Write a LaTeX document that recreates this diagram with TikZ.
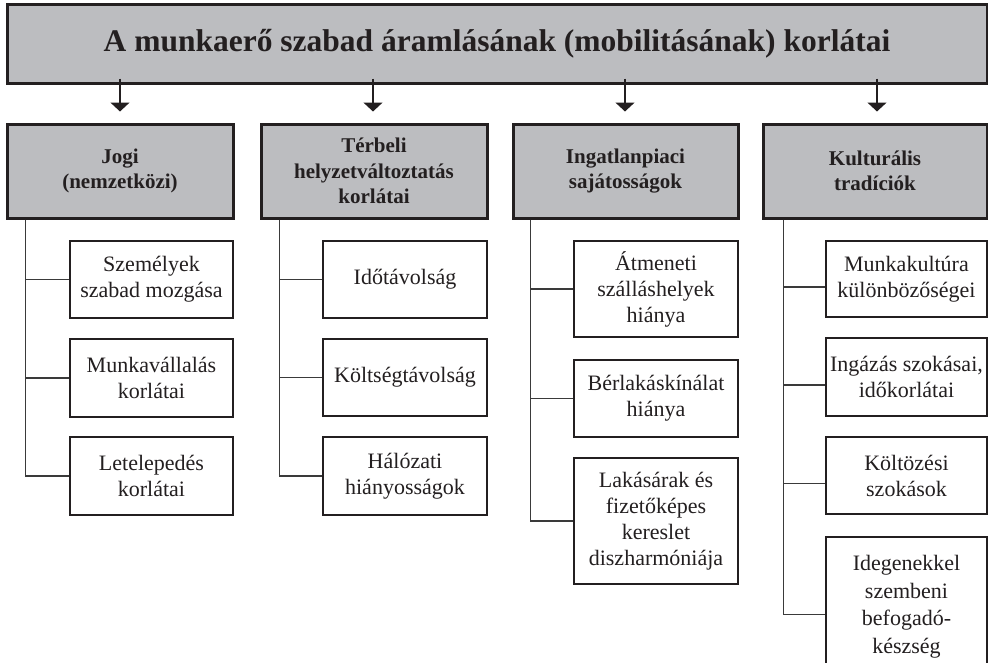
\documentclass[tikz,border=0pt]{standalone}
\usepackage{fontspec}
\setmainfont{Liberation Serif}
\usetikzlibrary{arrows.meta}
\definecolor{boxgray}{HTML}{BCBDC0}
\definecolor{ink}{HTML}{231F20}
\definecolor{treeline}{HTML}{3A3A3A}
\tikzset{
  titlebox/.style={draw=ink, fill=boxgray, line width=3pt, inner sep=0pt,
    font=\fontsize{31.5}{36}\selectfont\bfseries, text=ink},
  hdrbox/.style={draw=ink, fill=boxgray, line width=3pt, inner sep=0pt,
    minimum width=226pt, minimum height=94pt, align=center,
    font=\fontsize{21}{25.5}\selectfont\bfseries, text=ink},
  childbox/.style={draw=ink, fill=white, line width=1.5pt, inner sep=0pt,
    align=center, font=\fontsize{22}{26}\selectfont, text=ink},
  downarrow/.style={draw=ink, line width=1.5pt, -{Triangle[width=19pt,length=9pt]}},
  treelink/.style={draw=treeline, line width=1.6pt}
}
\begin{document}
\begin{tikzpicture}[x=1pt,y=-1pt]
\useasboundingbox (0,0) rectangle (988,662);
\clip (0,0) rectangle (988,662);

\node[titlebox, minimum width=980pt, minimum height=79pt] (title) at (497,43.5)
  {A munkaerő szabad áramlásának (mobilitásának) korlátai};

% header boxes
\node[hdrbox] (h1) at (120,171) {Jogi\\(nemzetközi)};
\node[hdrbox] (h2) at (374,171) {Térbeli\\helyzetváltoztatás\\korlátai};
\node[hdrbox, minimum width=225pt] (h3) at (625.5,171) {Ingatlanpiaci\\sajátosságok};
\node[hdrbox, minimum width=224pt] (h4) at (875,171) {Kulturális\\tradíciók};

% arrows
\foreach \h/\ax in {h1/120,h2/373,h3/625,h4/877}{
  \draw[downarrow] ([yshift=6pt]title.south -| \ax,0) -- ([yshift=11pt]\h.north -| \ax,0);
}

% column 1
\node[childbox, minimum width=163pt, minimum height=77pt] (c11) at (151.5,279.5) {Személyek\\szabad mozgása};
\node[childbox, minimum width=163pt, minimum height=78pt] (c12) at (151.5,378) {Munkavállalás\\korlátai};
\node[childbox, minimum width=163pt, minimum height=78pt] (c13) at (151.5,476) {Letelepedés\\korlátai};

% column 2
\node[childbox, minimum width=164pt, minimum height=77pt] (c21) at (405,279.5) {Időtávolság};
\node[childbox, minimum width=164pt, minimum height=77pt] (c22) at (405,377.5) {Költségtávolság};
\node[childbox, minimum width=164pt, minimum height=78pt] (c23) at (405,476) {Hálózati\\hiányosságok};

% column 3
\node[childbox, minimum width=164pt, minimum height=96pt] (c31) at (656,289) {Átmeneti\\szálláshelyek\\hiánya};
\node[childbox, minimum width=164pt, minimum height=77pt] (c32) at (656,398.5) {Bérlakáskínálat\\hiánya};
\node[childbox, minimum width=164pt, minimum height=126pt] (c33) at (656,521) {Lakásárak és\\fizetőképes\\kereslet\\diszharmóniája};

% column 4
\node[childbox, minimum width=161pt, minimum height=76pt] (c41) at (906.5,279) {Munkakultúra\\különbözőségei};
\node[childbox, minimum width=161pt, minimum height=78pt] (c42) at (906.5,377) {Ingázás szokásai,\\időkorlátai};
\node[childbox, minimum width=161pt, minimum height=77pt] (c43) at (906.5,475.5) {Költözési\\szokások};
\node[childbox, minimum width=161pt, minimum height=139pt, font=\fontsize{22}{27.5}\selectfont] (c44) at (906.5,606.5) {Idegenekkel\\szembeni\\befogadó-\\készség};

% tree connectors
\coordinate (t1) at ([xshift=20pt]h1.south west);
\coordinate (t2) at ([xshift=20pt]h2.south west);
\coordinate (t3) at ([xshift=19pt]h3.south west);
\coordinate (t4) at ([xshift=22pt]h4.south west);
\foreach \c in {c11,c12,c13}{\draw[treelink] (t1) |- (\c.west);}
\foreach \c in {c21,c22,c23}{\draw[treelink] (t2) |- (\c.west);}
\foreach \c in {c31,c32,c33}{\draw[treelink] (t3) |- (\c.west);}
\foreach \c in {c41,c42,c43,c44}{\draw[treelink] (t4) |- ([yshift=-8pt]\c.west);}
\end{tikzpicture}
\end{document}
